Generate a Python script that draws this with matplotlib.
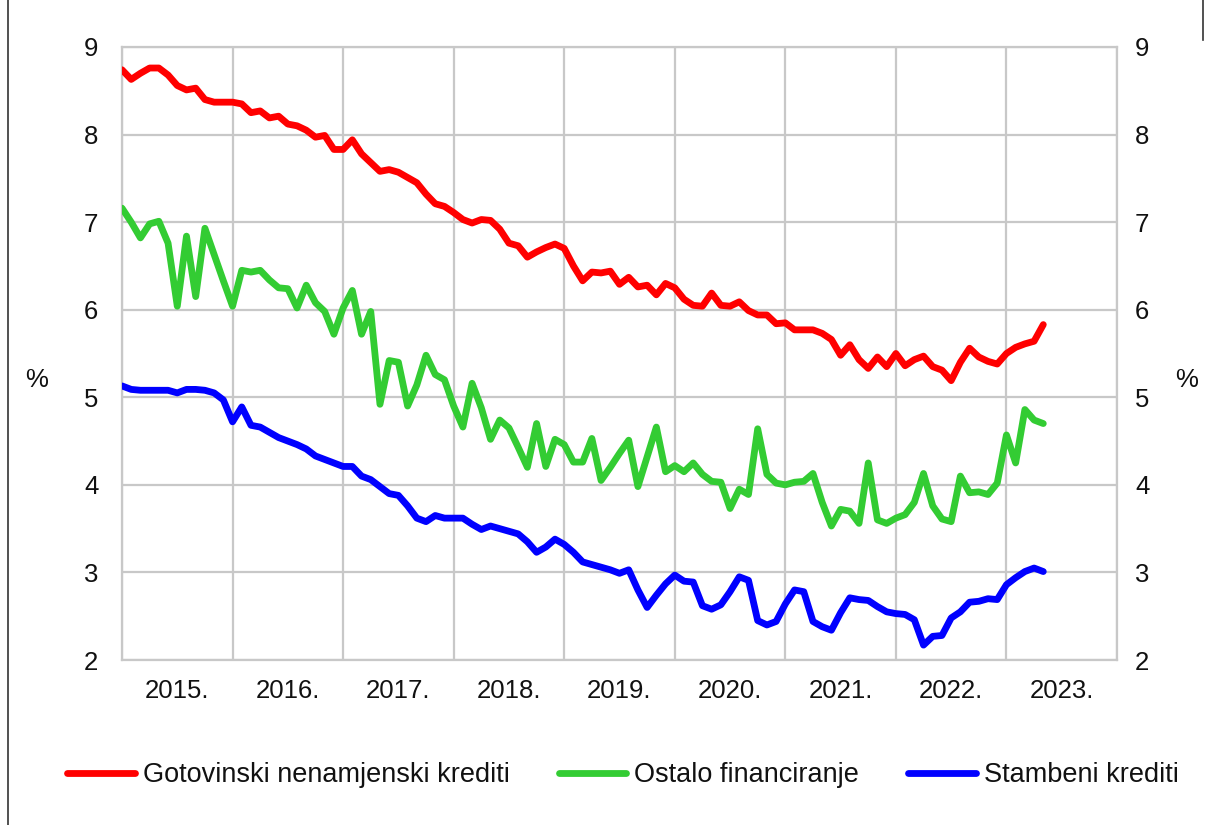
import numpy as np
import matplotlib
matplotlib.use("Agg")
import matplotlib.pyplot as plt
from matplotlib.lines import Line2D

plt.rcParams['font.family'] = ['Liberation Sans', 'DejaVu Sans']

# Monthly data, Jan 2015 - May 2023
gotovinski = [
    8.74, 8.63, 8.70, 8.76, 8.76, 8.68, 8.56, 8.51, 8.53, 8.40, 8.37, 8.37,
    8.37, 8.35, 8.25, 8.27, 8.19, 8.21, 8.12, 8.10, 8.05, 7.97, 7.99, 7.83,
    7.83, 7.94, 7.78, 7.68, 7.58, 7.60, 7.57, 7.51, 7.45, 7.32, 7.21, 7.18,
    7.11, 7.03, 6.99, 7.03, 7.02, 6.92, 6.76, 6.73, 6.60, 6.66, 6.71, 6.75,
    6.70, 6.50, 6.33, 6.43, 6.42, 6.44, 6.29, 6.37, 6.26, 6.28, 6.17, 6.30,
    6.25, 6.12, 6.05, 6.04, 6.19, 6.05, 6.04, 6.09, 5.99, 5.94, 5.94, 5.84,
    5.85, 5.77, 5.77, 5.77, 5.73, 5.66, 5.48, 5.60, 5.43, 5.33, 5.46, 5.35,
    5.50, 5.36, 5.43, 5.47, 5.35, 5.31, 5.19, 5.40, 5.56, 5.46, 5.41, 5.38,
    5.50, 5.57, 5.61, 5.64, 5.83,
]
ostalo = [
    7.16, 7.00, 6.82, 6.98, 7.01, 6.76, 6.04, 6.84, 6.15, 6.93, 6.63, 6.33,
    6.04, 6.45, 6.43, 6.45, 6.34, 6.25, 6.24, 6.02, 6.28, 6.08, 5.98, 5.72,
    6.02, 6.22, 5.72, 5.98, 4.92, 5.42, 5.40, 4.90, 5.14, 5.48, 5.26, 5.20,
    4.90, 4.66, 5.16, 4.88, 4.52, 4.74, 4.65, 4.43, 4.20, 4.70, 4.21, 4.52,
    4.46, 4.26, 4.26, 4.53, 4.05, 4.20, 4.36, 4.51, 3.98, 4.32, 4.66, 4.15,
    4.22, 4.15, 4.25, 4.12, 4.04, 4.03, 3.73, 3.95, 3.89, 4.64, 4.12, 4.02,
    4.00, 4.03, 4.04, 4.13, 3.80, 3.53, 3.72, 3.70, 3.56, 4.25, 3.60, 3.56,
    3.62, 3.66, 3.80, 4.13, 3.76, 3.61, 3.58, 4.10, 3.91, 3.92, 3.89, 4.02,
    4.57, 4.25, 4.86, 4.74, 4.70,
]
stambeni = [
    5.13, 5.09, 5.08, 5.08, 5.08, 5.08, 5.05, 5.09, 5.09, 5.08, 5.05, 4.97,
    4.72, 4.89, 4.68, 4.66, 4.60, 4.54, 4.50, 4.46, 4.41, 4.33, 4.29, 4.25,
    4.21, 4.21, 4.10, 4.06, 3.98, 3.90, 3.88, 3.76, 3.62, 3.58, 3.65, 3.62,
    3.62, 3.62, 3.55, 3.49, 3.53, 3.50, 3.47, 3.44, 3.35, 3.23, 3.29, 3.38,
    3.32, 3.23, 3.12, 3.09, 3.06, 3.03, 2.99, 3.03, 2.80, 2.60, 2.74, 2.87,
    2.97, 2.90, 2.89, 2.62, 2.58, 2.63, 2.78, 2.95, 2.91, 2.45, 2.40, 2.44,
    2.64, 2.80, 2.78, 2.44, 2.38, 2.34, 2.54, 2.71, 2.69, 2.68, 2.61, 2.55,
    2.53, 2.52, 2.46, 2.17, 2.27, 2.28, 2.48, 2.55, 2.66, 2.67, 2.70, 2.69,
    2.86, 2.94, 3.01, 3.05, 3.01,
]
year_labels = ["2015.", "2016.", "2017.", "2018.", "2019.", "2020.", "2021.", "2022.", "2023."]
series_names = ["Gotovinski nenamjenski krediti", "Ostalo financiranje", "Stambeni krediti"]
colors = ["#ff0000", "#33cc33", "#0000ff"]
y_ticks = [2, 3, 4, 5, 6, 7, 8, 9]

W, H = 1208, 825
TXT = '#111111'
FS = 18.5
fig = plt.figure(figsize=(W / 100, H / 100), dpi=100)
ax = fig.add_axes([122 / W, 1 - 660 / H, (1117 - 122) / W, (660 - 47) / H])

x = np.arange(len(gotovinski))
for vals, c, name in zip([gotovinski, ostalo, stambeni], colors, series_names):
    ax.plot(x, vals, color=c, lw=4.9, label=name,
            solid_joinstyle='round', solid_capstyle='round', zorder=3)

ax.set_xlim(0, 108)
ax.set_ylim(2, 9)
ax.set_yticks(y_ticks)
ax.set_xticks(np.arange(0, 109, 12))
ax.set_xticks(np.arange(6, 108, 12), minor=True)
ax.set_xticklabels([])
ax.set_xticklabels(year_labels, minor=True)
ax.tick_params(axis='x', which='both', length=0)
ax.tick_params(axis='x', which='minor', pad=14, labelsize=FS, colors=TXT)
ax.tick_params(axis='y', length=0, pad=17, labelsize=FS, colors=TXT)
ax.grid(True, which='major', color='#c8c8c8', lw=1.6)
for s in ax.spines.values():
    s.set_color('#c8c8c8')
    s.set_linewidth(1.6)

ax2 = ax.twinx()
ax2.set_ylim(2, 9)
ax2.set_yticks(y_ticks)
ax2.tick_params(axis='y', length=0, pad=13, labelsize=FS, colors=TXT)
for s in ax2.spines.values():
    s.set_visible(False)

fig.text(37 / W, 1 - 380 / H, "%", fontsize=FS, ha='center', va='center', color=TXT)
fig.text(1187 / W, 1 - 380 / H, "%", fontsize=FS, ha='center', va='center', color=TXT)

handles, labels = ax.get_legend_handles_labels()
fig.legend(handles, labels, loc='center', bbox_to_anchor=(0.5 + 19 / W, 1 - 775 / H), ncol=3,
           frameon=False, fontsize=19.5, handlelength=2.5, handletextpad=0.3,
           columnspacing=1.8, labelcolor=TXT)

# frame remnants of the original screenshot
fig.add_artist(Line2D([8 / W, 8 / W], [0, 1], color='#333333', lw=1.2))
fig.add_artist(Line2D([1203 / W, 1203 / W], [1 - 40 / H, 1], color='#333333', lw=1.2))

fig.savefig("out.png", dpi=100)
